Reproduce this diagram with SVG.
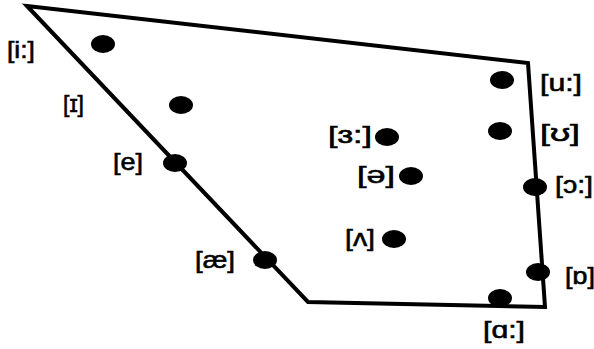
<svg xmlns="http://www.w3.org/2000/svg" width="594" height="349" viewBox="0 0 594 349">
<style>
.lbl{font-family:"Liberation Sans","DejaVu Sans",sans-serif;font-size:24px;fill:#000;stroke:#000;stroke-width:0.6;}
.dot{fill:#000;}
.edge{fill:none;stroke:#000;stroke-width:4;stroke-linejoin:miter;}
</style>
<rect width="594" height="349" fill="#fff"/>
<g id="connectors">
<polygon class="edge" points="27,6 528,63 545,307 308,302"/>
</g>
<g id="v-i-long"><ellipse class="dot" cx="103" cy="44" rx="12" ry="9"/><text class="lbl" x="7" y="58" textLength="28" lengthAdjust="spacingAndGlyphs">[i:]</text></g>
<g id="v-i-short"><ellipse class="dot" cx="181" cy="105" rx="12" ry="9"/><text class="lbl" x="63" y="112" textLength="21" lengthAdjust="spacingAndGlyphs">[ɪ]</text></g>
<g id="v-e"><ellipse class="dot" cx="175" cy="163" rx="12" ry="9"/><text class="lbl" x="113" y="170" textLength="30" lengthAdjust="spacingAndGlyphs">[e]</text></g>
<g id="v-ae"><ellipse class="dot" cx="265" cy="260" rx="12" ry="9"/><text class="lbl" x="195" y="268" textLength="40" lengthAdjust="spacingAndGlyphs">[æ]</text></g>
<g id="v-wedge"><ellipse class="dot" cx="394" cy="239" rx="12" ry="9"/><text class="lbl" x="345" y="246" textLength="30" lengthAdjust="spacingAndGlyphs">[ʌ]</text></g>
<g id="v-a-long"><ellipse class="dot" cx="500" cy="298" rx="12" ry="9"/><text class="lbl" x="483" y="338" textLength="42" lengthAdjust="spacingAndGlyphs">[ɑ:]</text></g>
<g id="v-o-short"><ellipse class="dot" cx="538" cy="272" rx="12" ry="9"/><text class="lbl" x="565" y="284" textLength="30" lengthAdjust="spacingAndGlyphs">[ɒ]</text></g>
<g id="v-u-long"><ellipse class="dot" cx="502" cy="80" rx="12" ry="9"/><text class="lbl" x="540" y="91" textLength="42" lengthAdjust="spacingAndGlyphs">[u:]</text></g>
<g id="v-u-short"><ellipse class="dot" cx="500" cy="131" rx="12" ry="9"/><text class="lbl" x="540" y="141" textLength="40" lengthAdjust="spacingAndGlyphs">[ʊ]</text></g>
<g id="v-er-long"><ellipse class="dot" cx="387" cy="137" rx="12" ry="9"/><text class="lbl" x="328" y="143" textLength="44" lengthAdjust="spacingAndGlyphs">[ɜ:]</text></g>
<g id="v-schwa"><ellipse class="dot" cx="411" cy="176" rx="12" ry="9"/><text class="lbl" x="357" y="183" textLength="38" lengthAdjust="spacingAndGlyphs">[ə]</text></g>
<g id="v-o-long"><ellipse class="dot" cx="535" cy="187" rx="12" ry="9"/><text class="lbl" x="555" y="193" textLength="38" lengthAdjust="spacingAndGlyphs">[ɔ:]</text></g>
</svg>
